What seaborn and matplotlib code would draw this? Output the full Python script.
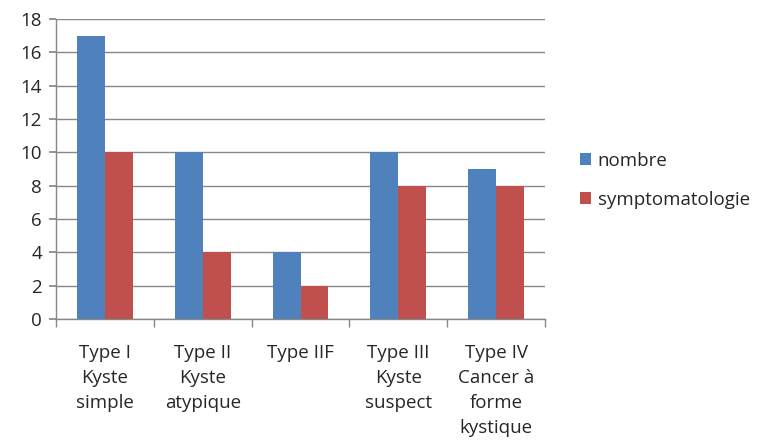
import matplotlib
matplotlib.use("Agg")
import matplotlib.pyplot as plt
from matplotlib.patches import Patch
import seaborn as sns
import pandas as pd
import numpy as np

categories = ["Type I\nKyste\nsimple", "Type II\nKyste\natypique", "Type IIF",
              "Type III\nKyste\nsuspect", "Type IV\nCancer à\nforme\nkystique"]
nombre = [17, 10, 4, 10, 9]
symptomatologie = [10, 4, 2, 8, 8]
series_names = ["nombre", "symptomatologie"]
colors = ["#4F81BD", "#C0504D"]

df = pd.DataFrame({
    "cat": categories * 2,
    "val": nombre + symptomatologie,
    "serie": [series_names[0]] * len(categories) + [series_names[1]] * len(categories),
})

sns.set_theme(style="white")
plt.rcParams["font.family"] = ["Open Sans", "DejaVu Sans"]

fig = plt.figure(figsize=(7.58, 4.45), dpi=100)
ax = fig.add_axes([56 / 758, 1 - 319 / 445, (545 - 56) / 758, (319 - 19) / 445])

sns.barplot(data=df, x="cat", y="val", hue="serie", palette=colors,
            width=0.571, saturation=1, ax=ax, legend=False, errorbar=None,
            linewidth=0)

grid_c = "#878787"
ax.set_ylim(0, 18)
ax.set_xlim(-0.5, len(categories) - 0.5)
ax.set_yticks(np.arange(0, 19, 2))
ax.yaxis.grid(True, color=grid_c, linewidth=1.0)
ax.set_axisbelow(True)
ax.set_xlabel("")
ax.set_ylabel("")

for s in ["top", "right"]:
    ax.spines[s].set_visible(False)
for s in ["left", "bottom"]:
    ax.spines[s].set_color(grid_c)
    ax.spines[s].set_linewidth(1.0)

ax.tick_params(axis="y", length=5, color=grid_c, labelsize=13.5, pad=5, left=True)
ax.tick_params(axis="x", which="major", length=0, labelsize=13.5, pad=18)
ax.set_xticks(np.arange(-0.5, len(categories), 1.0), minor=True)
ax.tick_params(axis="x", which="minor", length=6, color=grid_c, bottom=True, direction="out")
for lab in ax.get_xticklabels():
    lab.set_linespacing(1.5)
    lab.set_verticalalignment("top")

handles = [Patch(facecolor=c, edgecolor="none") for c in colors]
fig.legend(handles, series_names, loc="upper left", bbox_to_anchor=(563 / 758, 1 - 135 / 445),
           frameon=False, fontsize=13.5, handlelength=0.6, handleheight=0.6,
           handletextpad=0.35, labelspacing=1.1)

fig.savefig("out.png", dpi=100)
